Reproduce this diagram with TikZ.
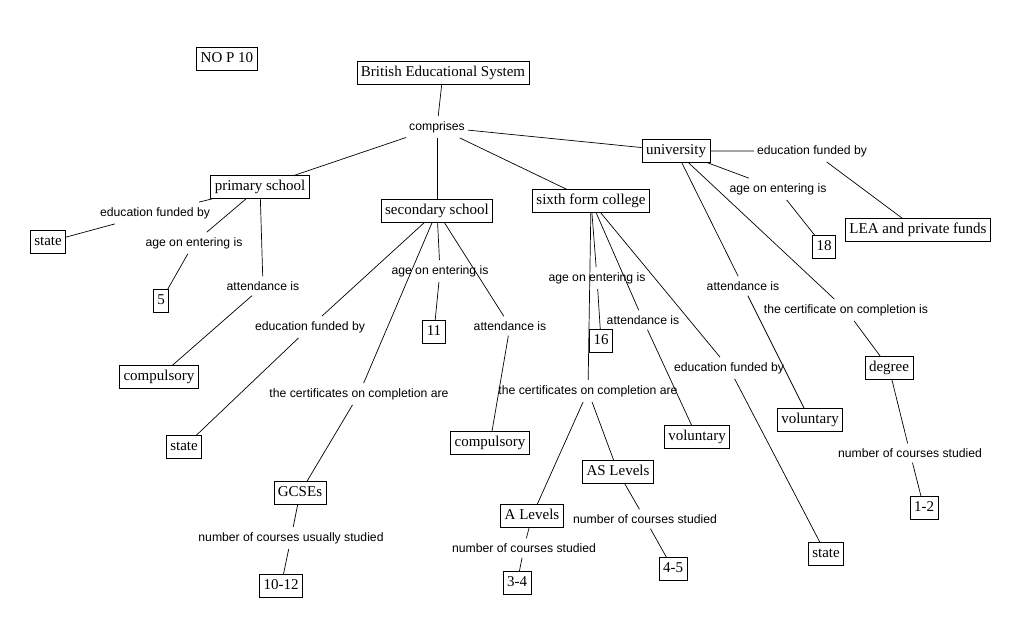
\documentclass[tikz,border=0pt]{standalone}
\usepackage{fontspec}
\setmainfont{Liberation Serif}
\setsansfont{Liberation Sans}
\begin{document}
\begin{tikzpicture}[x=1pt,y=-1pt,
  box/.style={draw, line width=0.8pt, font=\fontsize{15}{17}\selectfont, inner xsep=4pt, inner ysep=4.5pt, text height=10.5pt, text depth=3pt},
  lbl/.style={font=\sffamily\fontsize{12.2}{14}\selectfont, inner xsep=3pt, inner ysep=5pt},
  link/.style={line width=0.7pt}]
\useasboundingbox (0,0) rectangle (1035,637);
% boxes
\node[box] (nop) at (227,59) {NO P 10};
\node[box] (bes) at (443,73) {British Educational System};
\node[box] (univ) at (676,151) {university};
\node[box] (lea) at (918,230) {LEA and private funds};
\node[box] (n18) at (824,247) {18};
\node[box] (prim) at (260,187) {primary school};
\node[box] (statep) at (48,242) {state};
\node[box] (n5) at (161,301) {5};
\node[box] (compp) at (159,377) {compulsory};
\node[box] (sec) at (437,211) {secondary school};
\node[box] (n11) at (434,332) {11};
\node[box] (comps) at (490,443) {compulsory};
\node[box] (states) at (184,447) {state};
\node[box] (gcse) at (300,493) {GCSEs};
\node[box] (n1012) at (281,586) {10-12};
\node[box] (sixth) at (591,201) {sixth form college};
\node[box] (n16) at (601,341) {16};
\node[box] (vol6) at (697,437) {voluntary};
\node[box] (state6) at (826,554) {state};
\node[box] (asl) at (618,472) {AS Levels};
\node[box] (n45) at (673,569) {4-5};
\node[box] (al) at (532,516) {A Levels};
\node[box] (n34) at (517,583) {3-4};
\node[box] (volu) at (810,420) {voluntary};
\node[box] (degree) at (889,368) {degree};
\node[box] (n12) at (924,508) {1-2};
% labels
\node[lbl] (comp) at (437,127) {comprises};
\node[lbl] (edfu) at (812,151) {education funded by};
\node[lbl] (ageu) at (778,189) {age on entering is};
\node[lbl] (attu) at (743,286) {attendance is};
\node[lbl] (certu) at (846,310) {the certificate on completion is};
\node[lbl] (ncsd) at (910,453) {number of courses studied};
\node[lbl] (edfp) at (155,213) {education funded by};
\node[lbl] (agep) at (194,243) {age on entering is};
\node[lbl] (attp) at (263,286) {attendance is};
\node[lbl] (ages) at (440,271) {age on entering is};
\node[lbl] (atts) at (510,326) {attendance is};
\node[lbl] (edfs) at (310,327) {education funded by};
\node[lbl] (certs) at (359,394) {the certificates on completion are};
\node[lbl] (ncus) at (291,538) {number of courses usually studied};
\node[lbl] (age6) at (597,278) {age on entering is};
\node[lbl] (att6) at (643,320) {attendance is};
\node[lbl] (edf6) at (729,368) {education funded by};
\node[lbl] (cert6) at (588,391) {the certificates on completion are};
\node[lbl] (ncsas) at (645,519) {number of courses studied};
\node[lbl] (ncsa) at (524,548) {number of courses studied};
% connectors
\draw[link] (bes) -- (comp);
\draw[link] (comp) -- (prim);
\draw[link] (comp) -- (sec);
\draw[link] (comp) -- (sixth);
\draw[link] (comp) -- (univ);
\draw[link] (univ) -- (edfu) -- (lea);
\draw[link] (univ) -- (ageu) -- (n18);
\draw[link] (univ) -- (attu) -- (volu);
\draw[link] (univ) -- (certu) -- (degree);
\draw[link] (degree) -- (ncsd) -- (n12);
\draw[link] (prim) -- (edfp) -- (statep);
\draw[link] (prim) -- (agep) -- (n5);
\draw[link] (prim) -- (attp) -- (compp);
\draw[link] (sec) -- (ages) -- (n11);
\draw[link] (sec) -- (atts) -- (comps);
\draw[link] (sec) -- (edfs) -- (states);
\draw[link] (sec) -- (certs) -- (gcse);
\draw[link] (gcse) -- (ncus) -- (n1012);
\draw[link] (sixth) -- (age6) -- (n16);
\draw[link] (sixth) -- (att6) -- (vol6);
\draw[link] (sixth) -- (edf6) -- (state6);
\draw[link] (sixth) -- (cert6);
\draw[link] (cert6) -- (asl);
\draw[link] (cert6) -- (al);
\draw[link] (asl) -- (ncsas) -- (n45);
\draw[link] (al) -- (ncsa) -- (n34);
\end{tikzpicture}
\end{document}
